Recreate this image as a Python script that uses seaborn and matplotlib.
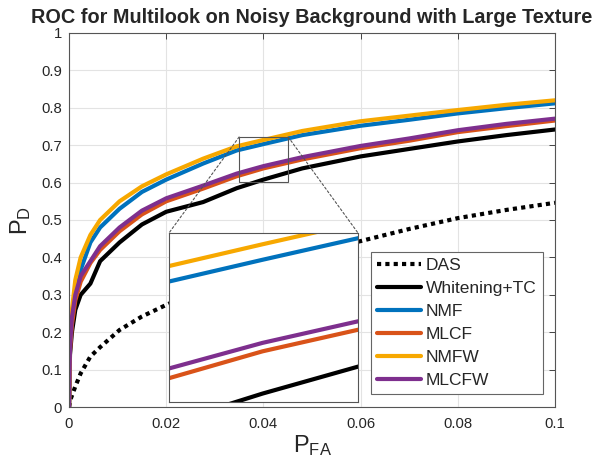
import matplotlib
matplotlib.use("Agg")
import matplotlib.pyplot as plt
import seaborn as sns
import numpy as np
import pandas as pd
from matplotlib.patches import Rectangle, ConnectionPatch

# ROC values
pfa = [0, 0.0002, 0.0006, 0.0013, 0.0024, 0.0044, 0.0064, 0.0104, 0.015, 0.02,
       0.0276, 0.0345, 0.04, 0.048, 0.06, 0.07, 0.08, 0.09, 0.1]
pd_whitening = [0, 0.14, 0.20, 0.26, 0.30, 0.33, 0.39, 0.44, 0.488, 0.522,
                0.548, 0.585, 0.608, 0.638, 0.670, 0.690, 0.710, 0.727, 0.742]
pd_nmf = [0, 0.17, 0.24, 0.31, 0.367, 0.44, 0.48, 0.53, 0.575, 0.608,
          0.651, 0.686, 0.703, 0.727, 0.752, 0.768, 0.785, 0.799, 0.812]
pd_mlcf = [0, 0.15, 0.22, 0.285, 0.335, 0.385, 0.42, 0.47, 0.515, 0.55,
           0.584, 0.617, 0.638, 0.662, 0.692, 0.712, 0.735, 0.751, 0.766]
pd_nmfw = [0, 0.18, 0.26, 0.34, 0.40, 0.46, 0.50, 0.55, 0.59, 0.622,
           0.664, 0.697, 0.714, 0.738, 0.764, 0.779, 0.794, 0.808, 0.82]
pd_mlcfw = [0, 0.16, 0.24, 0.30, 0.35, 0.39, 0.43, 0.48, 0.525, 0.558,
            0.592, 0.624, 0.644, 0.668, 0.698, 0.718, 0.740, 0.757, 0.771]

das_pfa = [0, 0.0003, 0.0013, 0.0024, 0.0044, 0.0064, 0.0104, 0.015, 0.02, 0.03,
           0.04, 0.05, 0.0595, 0.07, 0.08, 0.09, 0.1]
pd_das = [0, 0.02, 0.055, 0.09, 0.135, 0.16, 0.206, 0.242, 0.273, 0.33,
          0.373, 0.41, 0.442, 0.476, 0.505, 0.527, 0.546]

labels = ["DAS", "Whitening+TC", "NMF", "MLCF", "NMFW", "MLCFW"]
colors = ["black", "black", "#0072BD", "#D95319", "#F7A800", "#7E2F8E"]

# inset zoom window
zoom_x = (0.035, 0.0451)
zoom_y = (0.602, 0.722)

sns.set_style("white")
plt.rcParams["font.family"] = ["Liberation Sans", "DejaVu Sans"]
plt.rcParams["mathtext.fontset"] = "custom"
plt.rcParams["mathtext.rm"] = "Liberation Sans"

fig = plt.figure(figsize=(6.07, 4.66), dpi=100)
ax = fig.add_axes([0.1137, 0.1266, 0.8007, 0.8026])
axins = fig.add_axes([0.2784, 0.1373, 0.3114, 0.3627])

series = [(das_pfa, pd_das), (pfa, pd_whitening), (pfa, pd_nmf),
          (pfa, pd_mlcf), (pfa, pd_nmfw), (pfa, pd_mlcfw)]

for (x, y), lab, col in zip(series, labels, colors):
    ls = (0, (1, 1)) if lab == "DAS" else "-"
    df = pd.DataFrame({"x": x, "y": y})
    sns.lineplot(data=df, x="x", y="y", ax=ax, color=col, lw=3, linestyle=ls,
                 label=lab, sort=False, estimator=None)
    sns.lineplot(data=df, x="x", y="y", ax=axins, color=col, lw=3, linestyle=ls,
                 legend=False, sort=False, estimator=None)

# main axes styling (MATLAB look)
ax.set_xlim(0, 0.1)
ax.set_ylim(0, 1)
ax.set_xticks(np.arange(0, 0.1001, 0.02))
ax.set_xticklabels(["0", "0.02", "0.04", "0.06", "0.08", "0.1"])
ax.set_yticks(np.arange(0, 1.001, 0.1))
ax.set_yticklabels(["0", "0.1", "0.2", "0.3", "0.4", "0.5", "0.6", "0.7", "0.8", "0.9", "1"])
ax.grid(True, color="#e3e3e3", lw=0.8)
ax.tick_params(direction="in", length=4, width=0.7, colors="#444444",
               labelcolor="#262626", labelsize=10.7, top=True, right=True,
               labeltop=False, labelright=False)
ax.tick_params(axis="x", pad=7)
ax.tick_params(axis="y", pad=5)
for s in ax.spines.values():
    s.set_color("#555555")
    s.set_linewidth(0.8)
ax.set_xlabel(r"$\mathregular{P_{FA}}$", fontsize=17, color="#262626", labelpad=2)
ax.set_ylabel(r"$\mathregular{P_D}$", fontsize=17, color="#262626", labelpad=6)
ax.set_title("ROC for Multilook on Noisy Background with Large Texture",
             fontsize=14.3, fontweight="bold", pad=7.5)

leg = ax.legend(loc="lower right", bbox_to_anchor=(0.975, 0.035), borderaxespad=0,
                fontsize=12.5, fancybox=False, framealpha=1, edgecolor="#666666",
                handlelength=2.5, labelspacing=0.45, handletextpad=0.3,
                borderpad=0.35)
leg.get_frame().set_linewidth(0.8)
for t in leg.get_texts():
    t.set_color("#262626")

# inset styling
axins.set_xlim(*zoom_x)
axins.set_ylim(*zoom_y)
axins.set_xticks([])
axins.set_yticks([])
axins.set_xlabel("")
axins.set_ylabel("")
axins.set_facecolor("white")
for s in axins.spines.values():
    s.set_color("#555555")
    s.set_linewidth(0.8)

# zoom rectangle and connectors
ax.add_patch(Rectangle((zoom_x[0], zoom_y[0]), zoom_x[1] - zoom_x[0],
                       zoom_y[1] - zoom_y[0], fill=False, ec="#555555", lw=0.8, zorder=5))
for xa, xb in [(zoom_x[0], 0), (zoom_x[1], 1)]:
    con = ConnectionPatch(xyA=(xa, zoom_y[1]), coordsA=ax.transData,
                          xyB=(xb, 1), coordsB=axins.transAxes,
                          color="#555555", lw=0.8, linestyle=(0, (2, 2)))
    fig.add_artist(con)

plt.savefig("out.png", dpi=100)
